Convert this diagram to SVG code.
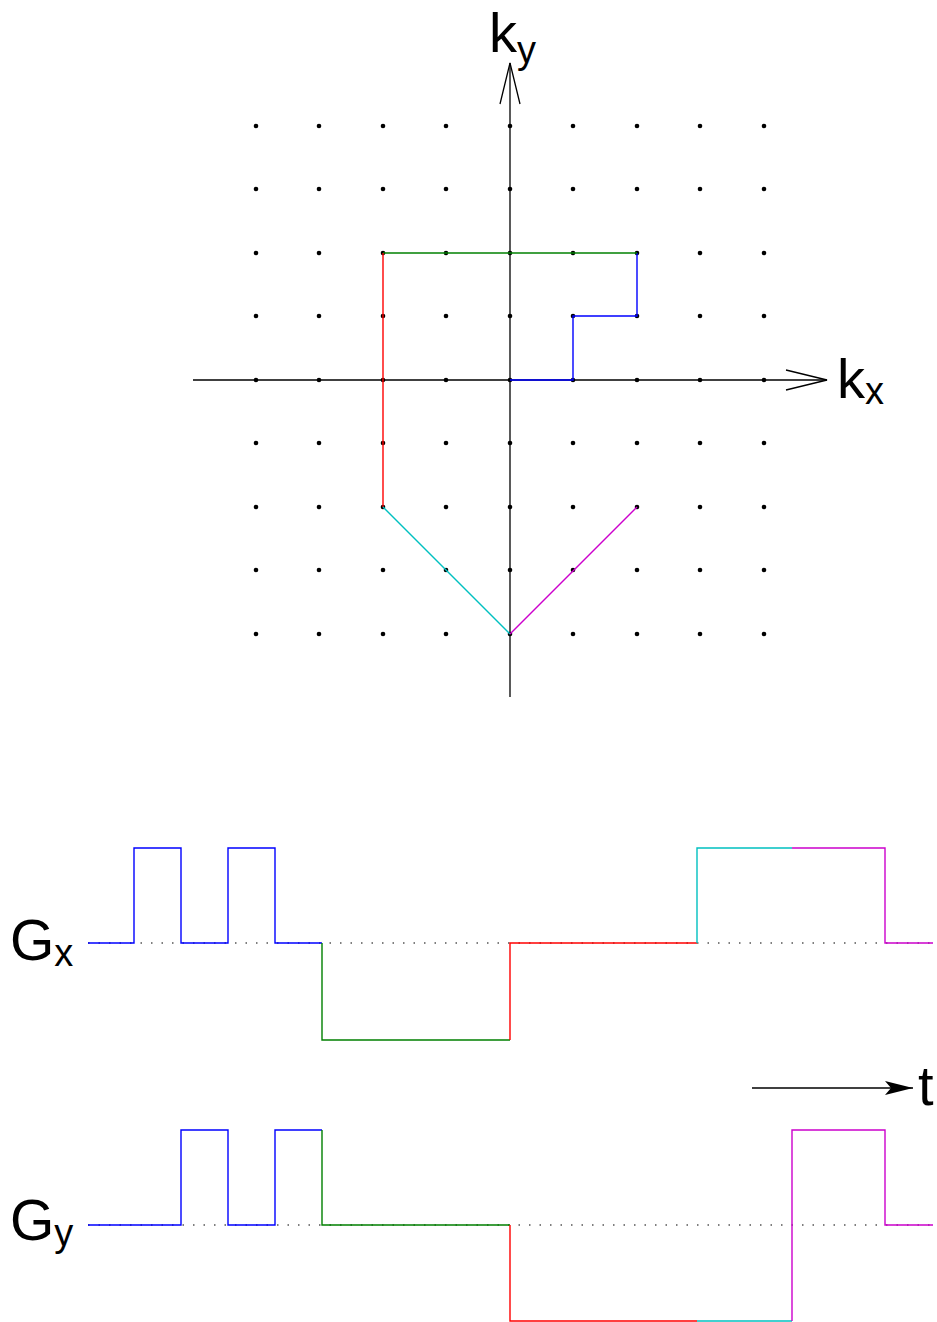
<svg xmlns="http://www.w3.org/2000/svg" width="937" height="1322" viewBox="0 0 937 1322">
<style>
.ax{stroke:#000;stroke-width:1.3;fill:none}
.w{fill:none;stroke-width:1.4;stroke-linejoin:miter}
.b{stroke:#0000ff}.g{stroke:#008000}.r{stroke:#ff0000}.c{stroke:#00c0c0}.m{stroke:#cc00cc}
.base{stroke:#555;stroke-width:1.3;stroke-dasharray:1.5 9;fill:none}
.lbl{font-family:"Liberation Sans",Arial,sans-serif;fill:#000}
.pt circle{fill:#000;r:2.3px}
</style>
<defs>
<marker id="fill" markerWidth="30" markerHeight="14" refX="28" refY="7" orient="auto" markerUnits="userSpaceOnUse">
<path d="M0,0 L28,7 L0,14 L6,7 Z" fill="#000"/>
</marker>
</defs>
<g id="kspace-grid">
<g id="dots" class="pt">
<circle cx="256" cy="126" r="2.3"/><circle cx="319" cy="126" r="2.3"/><circle cx="383" cy="126" r="2.3"/><circle cx="446" cy="126" r="2.3"/><circle cx="510" cy="126" r="2.3"/><circle cx="573" cy="126" r="2.3"/><circle cx="637" cy="126" r="2.3"/><circle cx="700" cy="126" r="2.3"/><circle cx="764" cy="126" r="2.3"/>
<circle cx="256" cy="189" r="2.3"/><circle cx="319" cy="189" r="2.3"/><circle cx="383" cy="189" r="2.3"/><circle cx="446" cy="189" r="2.3"/><circle cx="510" cy="189" r="2.3"/><circle cx="573" cy="189" r="2.3"/><circle cx="637" cy="189" r="2.3"/><circle cx="700" cy="189" r="2.3"/><circle cx="764" cy="189" r="2.3"/>
<circle cx="256" cy="253" r="2.3"/><circle cx="319" cy="253" r="2.3"/><circle cx="383" cy="253" r="2.3"/><circle cx="446" cy="253" r="2.3"/><circle cx="510" cy="253" r="2.3"/><circle cx="573" cy="253" r="2.3"/><circle cx="637" cy="253" r="2.3"/><circle cx="700" cy="253" r="2.3"/><circle cx="764" cy="253" r="2.3"/>
<circle cx="256" cy="316" r="2.3"/><circle cx="319" cy="316" r="2.3"/><circle cx="383" cy="316" r="2.3"/><circle cx="446" cy="316" r="2.3"/><circle cx="510" cy="316" r="2.3"/><circle cx="573" cy="316" r="2.3"/><circle cx="637" cy="316" r="2.3"/><circle cx="700" cy="316" r="2.3"/><circle cx="764" cy="316" r="2.3"/>
<circle cx="256" cy="380" r="2.3"/><circle cx="319" cy="380" r="2.3"/><circle cx="383" cy="380" r="2.3"/><circle cx="446" cy="380" r="2.3"/><circle cx="510" cy="380" r="2.3"/><circle cx="573" cy="380" r="2.3"/><circle cx="637" cy="380" r="2.3"/><circle cx="700" cy="380" r="2.3"/><circle cx="764" cy="380" r="2.3"/>
<circle cx="256" cy="443" r="2.3"/><circle cx="319" cy="443" r="2.3"/><circle cx="383" cy="443" r="2.3"/><circle cx="446" cy="443" r="2.3"/><circle cx="510" cy="443" r="2.3"/><circle cx="573" cy="443" r="2.3"/><circle cx="637" cy="443" r="2.3"/><circle cx="700" cy="443" r="2.3"/><circle cx="764" cy="443" r="2.3"/>
<circle cx="256" cy="507" r="2.3"/><circle cx="319" cy="507" r="2.3"/><circle cx="383" cy="507" r="2.3"/><circle cx="446" cy="507" r="2.3"/><circle cx="510" cy="507" r="2.3"/><circle cx="573" cy="507" r="2.3"/><circle cx="637" cy="507" r="2.3"/><circle cx="700" cy="507" r="2.3"/><circle cx="764" cy="507" r="2.3"/>
<circle cx="256" cy="570" r="2.3"/><circle cx="319" cy="570" r="2.3"/><circle cx="383" cy="570" r="2.3"/><circle cx="446" cy="570" r="2.3"/><circle cx="510" cy="570" r="2.3"/><circle cx="573" cy="570" r="2.3"/><circle cx="637" cy="570" r="2.3"/><circle cx="700" cy="570" r="2.3"/><circle cx="764" cy="570" r="2.3"/>
<circle cx="256" cy="634" r="2.3"/><circle cx="319" cy="634" r="2.3"/><circle cx="383" cy="634" r="2.3"/><circle cx="446" cy="634" r="2.3"/><circle cx="510" cy="634" r="2.3"/><circle cx="573" cy="634" r="2.3"/><circle cx="637" cy="634" r="2.3"/><circle cx="700" cy="634" r="2.3"/><circle cx="764" cy="634" r="2.3"/>
</g>
</g>
<g id="axes">
<line class="ax" x1="193" y1="380" x2="827" y2="380"/>
<path class="ax" d="M786,370 L827,380 L786,390"/>
<line class="ax" x1="510" y1="697" x2="510" y2="63"/>
<path class="ax" d="M500,104 L510,63 L520,104"/>
<text class="lbl" x="489" y="52" font-size="56">k<tspan font-size="38" dy="11">y</tspan></text>
<text class="lbl" x="837" y="398" font-size="56">k<tspan font-size="38" dy="6">x</tspan></text>
</g>
<g id="trajectory">
<path class="w b" d="M510,380 H573 V316 H637 V253"/>
<path class="w g" d="M637,253 H383"/>
<path class="w r" d="M383,253 V507"/>
<path class="w c" d="M383,507 L510,634"/>
<path class="w m" d="M510,634 L637,507"/>
</g>
<g id="Gx">
<text class="lbl" x="10" y="960" font-size="57">G<tspan font-size="38" dy="6">x</tspan></text>
<line class="base" x1="88" y1="943" x2="933" y2="943"/>
<path class="w b" d="M88,943 H134 V848 H181 V943 H228 V848 H275 V943 H322"/>
<path class="w g" d="M322,943 V1040 H510"/>
<path class="w r" d="M510,1040 V943 H697"/>
<path class="w c" d="M697,943 V848 H792"/>
<path class="w m" d="M792,848 H885 V943 H933"/>
</g>
<g id="Gy">
<text class="lbl" x="10" y="1240" font-size="57">G<tspan font-size="38" dy="6">y</tspan></text>
<line class="base" x1="88" y1="1225" x2="933" y2="1225"/>
<path class="w b" d="M88,1225 H181 V1130 H228 V1225 H275 V1130 H322"/>
<path class="w g" d="M322,1130 V1225 H510"/>
<path class="w r" d="M510,1225 V1321 H697"/>
<path class="w c" d="M697,1321 H792"/>
<path class="w m" d="M792,1321 V1130 H885 V1225 H933"/>
</g>
<g id="time-arrow">
<line x1="752" y1="1088" x2="913" y2="1088" stroke="#000" stroke-width="1.5" marker-end="url(#fill)"/>
<text class="lbl" x="918" y="1105" font-size="56">t</text>
</g>
</svg>
